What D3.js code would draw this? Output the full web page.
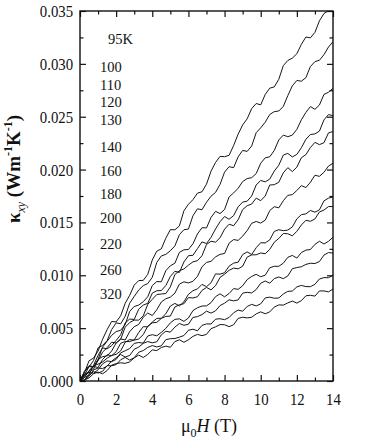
<!DOCTYPE html>
<html>
<head>
<meta charset="utf-8">
<script src="https://cdn.jsdelivr.net/npm/d3@7"></script>
<style>
  body { margin: 0; background: #fff; }
  text { font-family: "Liberation Serif", "Times New Roman", serif; fill: #111; }
</style>
</head>
<body>
<script>
// field (T), one point every 0.25 T
const fields = [0, 0.25, 0.5, 0.75, 1, 1.25, 1.5, 1.75, 2, 2.25, 2.5, 2.75, 3, 3.25, 3.5, 3.75, 4, 4.25, 4.5, 4.75, 5, 5.25, 5.5, 5.75, 6, 6.25, 6.5, 6.75, 7, 7.25, 7.5, 7.75, 8, 8.25, 8.5, 8.75, 9, 9.25, 9.5, 9.75, 10, 10.25, 10.5, 10.75, 11, 11.25, 11.5, 11.75, 12, 12.25, 12.5, 12.75, 13, 13.25, 13.5, 13.75, 14];

// kappa_xy, in units of 10^-3 W m^-1 K^-1
const k95  = [0, 0.80, 1.91, 2.17, 2.83, 3.95, 4.86, 5.63, 5.59, 6.17, 7.35, 8.11, 9.07, 9.50, 9.52, 10.09, 11.45, 12.28, 12.50, 13.51, 14.32, 14.30, 14.67, 16.10, 16.72, 17.15, 17.77, 17.90, 18.62, 19.85, 20.67, 21.25, 21.22, 21.35, 22.27, 23.35, 24.22, 24.80, 25.77, 26.25, 26.12, 27.11, 27.70, 27.82, 28.54, 29.83, 30.32, 30.54, 30.96, 31.85, 32.54, 32.46, 32.98, 34.07, 34.76, 35.03, 35.70];
const k100 = [0, 0.90, 1.34, 1.94, 3.13, 3.37, 3.81, 4.86, 5.50, 5.41, 6.12, 7.36, 8.00, 8.61, 9.02, 9.22, 9.81, 11.22, 11.83, 11.98, 12.32, 12.78, 13.84, 14.31, 14.37, 15.63, 16.29, 16.20, 16.91, 17.48, 17.84, 18.60, 19.76, 20.27, 20.18, 21.20, 21.81, 21.72, 22.23, 23.49, 23.95, 24.48, 25.21, 25.48, 25.54, 25.97, 27.00, 27.92, 28.43, 28.36, 28.69, 29.75, 30.21, 30.34, 30.87, 31.59, 32.10];
const k110 = [0, 0.93, 1.45, 1.35, 2.05, 3.21, 3.76, 4.32, 4.67, 4.80, 5.32, 6.59, 7.05, 7.18, 7.50, 7.97, 9.03, 9.41, 9.38, 10.44, 10.90, 11.14, 12.17, 12.41, 12.44, 12.98, 13.91, 14.50, 14.48, 15.47, 16.05, 15.84, 16.22, 17.41, 17.79, 18.23, 18.86, 19.15, 19.23, 19.62, 20.60, 21.11, 21.21, 21.81, 22.80, 23.26, 23.11, 23.26, 23.80, 24.71, 25.41, 25.96, 25.70, 26.11, 27.11, 27.31, 27.70];
const k120 = [0, 0.57, 0.93, 1.48, 2.43, 3.14, 3.04, 3.34, 3.84, 4.37, 5.50, 5.86, 5.82, 6.80, 7.18, 7.35, 8.31, 8.54, 8.56, 9.03, 9.89, 10.38, 10.27, 11.26, 11.85, 11.89, 12.52, 13.16, 13.00, 13.59, 14.38, 15.07, 15.56, 15.30, 15.64, 16.48, 16.92, 17.01, 17.50, 18.54, 18.97, 18.84, 19.10, 19.86, 20.41, 21.37, 21.53, 21.19, 21.44, 22.06, 22.87, 23.32, 23.37, 23.64, 24.70, 25.20, 25.10];
const k130 = [0, 0.58, 1.36, 1.34, 1.91, 2.73, 3.15, 3.67, 3.59, 3.94, 5.09, 5.53, 5.76, 5.76, 6.16, 7.25, 7.73, 8.18, 8.23, 8.27, 8.90, 10.07, 10.43, 10.60, 10.96, 11.27, 11.38, 11.85, 12.91, 13.22, 13.13, 13.55, 14.36, 14.83, 14.69, 15.25, 16.21, 16.58, 16.74, 17.30, 17.06, 17.50, 18.54, 18.57, 18.80, 19.69, 20.18, 19.81, 20.23, 21.12, 21.41, 22.09, 22.57, 22.36, 22.54, 23.47, 23.60];
const k140 = [0, 0.66, 0.83, 1.12, 2.05, 2.30, 2.38, 2.83, 3.60, 3.98, 3.88, 4.67, 5.14, 5.35, 6.03, 6.43, 6.19, 6.75, 7.47, 7.78, 7.93, 8.31, 9.16, 9.38, 9.28, 9.43, 9.90, 10.80, 11.22, 11.32, 11.74, 11.98, 12.06, 13.04, 13.38, 13.30, 13.70, 14.23, 14.92, 15.09, 14.94, 15.21, 16.12, 16.49, 16.38, 17.05, 17.56, 17.63, 18.02, 18.48, 18.30, 18.80, 19.46, 19.36, 19.74, 20.33, 20.60];
const k160 = [0, 0.33, 0.98, 1.37, 1.28, 2.04, 2.48, 2.39, 2.77, 3.57, 3.73, 3.73, 3.88, 4.59, 5.14, 5.12, 5.58, 5.92, 5.94, 6.36, 7.09, 7.34, 7.10, 7.49, 8.20, 8.54, 8.71, 9.14, 8.92, 9.29, 10.13, 10.11, 10.24, 10.86, 11.15, 11.24, 11.96, 12.21, 11.97, 12.61, 13.08, 13.06, 13.35, 14.15, 14.31, 14.22, 14.28, 14.57, 15.34, 15.74, 15.81, 16.13, 15.97, 16.19, 17.04, 17.30, 17.40];
const k180 = [0, 0.10, 0.64, 1.44, 1.60, 1.80, 2.16, 2.42, 2.52, 2.85, 3.65, 3.92, 3.86, 3.97, 4.39, 5.19, 5.50, 5.55, 5.92, 6.11, 6.14, 7.00, 7.21, 7.31, 7.89, 7.85, 7.97, 8.57, 8.85, 8.62, 9.02, 9.80, 10.10, 10.47, 10.68, 10.61, 10.86, 11.72, 11.93, 11.94, 12.11, 12.04, 12.45, 13.13, 13.48, 13.95, 13.93, 13.73, 14.16, 14.76, 15.20, 15.11, 15.33, 15.99, 16.17, 16.50, 16.50];
const k200 = [0, 0.48, 0.81, 0.73, 1.06, 1.62, 1.90, 1.83, 2.04, 2.66, 2.86, 3.07, 3.56, 3.64, 3.58, 4.26, 4.38, 4.28, 4.60, 4.98, 5.50, 5.83, 5.88, 5.64, 5.96, 6.66, 6.93, 7.09, 7.11, 7.41, 7.98, 8.25, 7.96, 8.28, 8.74, 8.67, 9.01, 9.59, 9.89, 10.09, 9.86, 10.01, 10.71, 10.85, 10.85, 11.14, 11.70, 11.88, 11.63, 12.15, 12.38, 12.44, 12.92, 13.22, 12.96, 13.21, 13.60];
const k220 = [0, 0.08, 0.44, 1.05, 1.23, 1.18, 1.41, 1.88, 2.20, 2.51, 2.26, 2.42, 3.00, 3.21, 3.56, 3.73, 3.61, 3.71, 4.37, 4.71, 4.62, 5.10, 5.44, 5.27, 5.37, 6.01, 6.09, 6.28, 6.61, 6.42, 6.64, 7.14, 7.36, 7.68, 7.58, 7.67, 8.31, 8.39, 8.33, 8.65, 9.25, 9.46, 9.25, 9.69, 9.84, 9.68, 9.94, 10.62, 10.73, 10.81, 11.03, 11.14, 11.11, 11.30, 11.91, 12.15, 12.10];
const k260 = [0, 0.34, 0.55, 0.89, 0.75, 0.92, 1.45, 1.44, 1.55, 2.01, 2.23, 1.98, 2.20, 2.72, 2.88, 3.18, 3.35, 3.22, 3.33, 3.91, 4.00, 4.02, 4.15, 4.30, 4.80, 4.90, 4.75, 5.26, 5.40, 5.39, 5.85, 5.89, 5.80, 6.01, 6.45, 6.71, 6.60, 7.05, 7.25, 7.10, 7.30, 7.86, 7.93, 7.83, 7.85, 8.23, 8.48, 8.51, 8.90, 9.04, 8.93, 8.92, 9.15, 9.65, 9.78, 9.77, 10.00];
const k320 = [0, 0.09, 0.29, 0.69, 0.84, 0.68, 0.99, 1.50, 1.64, 1.72, 1.67, 1.81, 2.19, 2.45, 2.22, 2.52, 2.94, 2.88, 3.17, 3.30, 3.19, 3.73, 3.90, 3.66, 3.90, 4.22, 4.41, 4.29, 4.41, 4.95, 5.12, 5.34, 5.32, 5.14, 5.32, 5.92, 6.03, 5.97, 6.03, 6.35, 6.54, 6.36, 6.54, 6.99, 7.20, 7.18, 7.39, 7.56, 7.37, 7.60, 8.06, 8.11, 8.03, 8.52, 8.52, 8.43, 8.70];

const series = [k95, k100, k110, k120, k130, k140, k160, k180, k200, k220, k260, k320];
const tempLabels = ["95K", "100", "110", "120", "130", "140", "160", "180", "200", "220", "260", "320"];
// baseline of each temperature label, same units as the curves
const labelAt = [31.9, 29.2, 27.5, 25.9, 24.2, 21.7, 19.4, 17.2, 14.9, 12.5, 10.0, 7.8];

const xMajor = [0, 2, 4, 6, 8, 10, 12, 14];
const xMinor = [1, 3, 5, 7, 9, 11, 13];
const yMajor = [0, 5, 10, 15, 20, 25, 30, 35];
const yMinor = [2.5, 7.5, 12.5, 17.5, 22.5, 27.5, 32.5];

const w = 374, h = 443;
const pLeft = 80, pRight = 333, pTop = 11, pBottom = 381;

const svg = d3.select('body').append('svg')
   .attr('width', w)
   .attr('height', h);

const x = d3.scaleLinear().domain([0, 14]).range([pLeft, pRight]);
const y = d3.scaleLinear().domain([0, 35]).range([pBottom, pTop]);

svg.append('clipPath').attr('id', 'plot')
   .append('rect')
   .attr('x', pLeft).attr('y', pTop)
   .attr('width', pRight - pLeft).attr('height', pBottom - pTop);

// curves
const line = d3.line()
   .x((d, i) => x(fields[i]))
   .y(d => y(d));

svg.append('g')
   .attr('clip-path', 'url(#plot)')
   .selectAll('path')
   .data(series)
   .enter()
   .append('path')
   .attr('d', line)
   .attr('fill', 'none')
   .attr('stroke', '#151515')
   .attr('stroke-width', 1)
   .attr('stroke-linejoin', 'round');

// ticks, all pointing inward
const fmt = d => (d / 1000).toFixed(3);
function addAxis(axis, tx, ty) {
   const g = svg.append('g')
      .attr('transform', 'translate(' + tx + ',' + ty + ')')
      .call(axis);
   g.select('.domain').remove();
   g.selectAll('line').attr('stroke', '#111').attr('stroke-width', 1.2);
   return g;
}

const gx = addAxis(d3.axisBottom(x).tickValues(xMajor).tickSizeInner(-6).tickSizeOuter(0).tickPadding(12), 0, pBottom);
addAxis(d3.axisBottom(x).tickValues(xMinor).tickSizeInner(-3.5).tickSizeOuter(0).tickFormat(''), 0, pBottom);
addAxis(d3.axisTop(x).tickValues(xMajor).tickSizeInner(-6).tickSizeOuter(0).tickFormat(''), 0, pTop);
addAxis(d3.axisTop(x).tickValues(xMinor).tickSizeInner(-3.5).tickSizeOuter(0).tickFormat(''), 0, pTop);

const gy = addAxis(d3.axisLeft(y).tickValues(yMajor).tickSizeInner(-6).tickSizeOuter(0).tickPadding(8).tickFormat(fmt), pLeft, 0);
addAxis(d3.axisLeft(y).tickValues(yMinor).tickSizeInner(-3.5).tickSizeOuter(0).tickFormat(''), pLeft, 0);
addAxis(d3.axisRight(y).tickValues(yMajor).tickSizeInner(-6).tickSizeOuter(0).tickFormat(''), pRight, 0);
addAxis(d3.axisRight(y).tickValues(yMinor).tickSizeInner(-3.5).tickSizeOuter(0).tickFormat(''), pRight, 0);

[gx, gy].forEach(g => g.selectAll('text')
   .attr('font-family', '"Liberation Serif", serif')
   .attr('font-size', 17)
   .attr('fill', '#111')
   .attr('transform', 'scale(0.87,1)'));

// frame
svg.append('rect')
   .attr('x', pLeft).attr('y', pTop)
   .attr('width', pRight - pLeft).attr('height', pBottom - pTop)
   .attr('fill', 'none')
   .attr('stroke', '#111')
   .attr('stroke-width', 1.4);

// temperature labels
svg.append('g')
   .selectAll('text')
   .data(tempLabels)
   .enter()
   .append('text')
   .attr('x', (d, i) => i === 0 ? 108 : 100)
   .attr('y', (d, i) => y(labelAt[i]))
   .attr('font-size', 14.5)
   .text(d => d);

// x title: mu0 H (T)
const xt = svg.append('text')
   .attr('x', 209)
   .attr('y', 432)
   .attr('text-anchor', 'middle')
   .attr('font-size', 18);
xt.append('tspan').text('\u03bc');
xt.append('tspan').attr('font-size', 12).attr('dy', 5).text('0');
xt.append('tspan').attr('dy', -5).attr('font-style', 'italic').text('H');
xt.append('tspan').text(' (T)');

// y title: kappa_xy (W m^-1 K^-1)
const yt = svg.append('text')
   .attr('transform', 'translate(20,169) rotate(-90)')
   .attr('text-anchor', 'middle')
   .attr('font-size', 19)
   .attr('font-weight', 'bold');
yt.append('tspan').text('\u03ba');
yt.append('tspan').attr('font-size', 12).attr('font-weight', 'normal').attr('font-style', 'italic').attr('dy', 5).text('xy');
yt.append('tspan').attr('dy', -5).text(' (Wm');
yt.append('tspan').attr('font-size', 12).attr('dy', -8).text('-1');
yt.append('tspan').attr('dy', 8).text('K');
yt.append('tspan').attr('font-size', 12).attr('dy', -8).text('-1');
yt.append('tspan').attr('dy', 8).text(')');
</script>
</body>
</html>
